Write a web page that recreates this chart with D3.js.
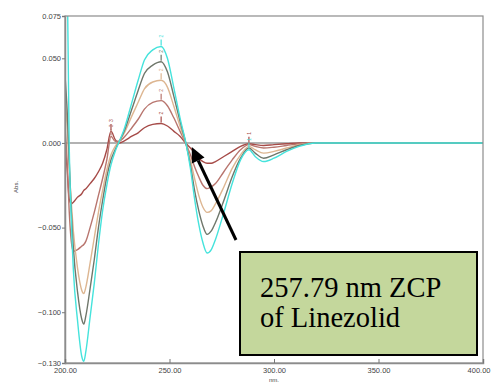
<!DOCTYPE html>
<html>
<head>
<meta charset="utf-8">
<script src="https://cdn.jsdelivr.net/npm/d3@7"></script>
<style>
  body { margin: 0; background: #fff; }
  svg { display: block; font-family: "Liberation Sans", Arial, sans-serif; }
</style>
</head>
<body>
<div id="chart"></div>
<script>
// wavelengths (nm) shared by all spectra
var wavelengths = [200, 201, 202, 203, 204, 206, 208, 209, 210, 212, 214, 216, 218, 220, 222, 224, 226, 228,
  232, 235, 238, 242, 246, 249, 252, 255, 258, 260, 262, 264, 266, 268, 270, 272, 276, 280, 284, 288,
  291, 295, 300, 306, 312, 320, 340, 370, 400];

// derivative absorbance, one array per concentration
var specRed = [0.0, -0.015, -0.033, -0.036, -0.035, -0.032, -0.030, -0.028, -0.027, -0.024, -0.021, -0.017, -0.012, -0.004, 0.007, 0.002, 0.0, 0.001,
  0.004, 0.006, 0.009, 0.011, 0.0115, 0.010, 0.007, 0.004, -0.0005, -0.003, -0.006, -0.009, -0.011, -0.012, -0.012, -0.011, -0.008, -0.005, -0.002, -0.0005,
  -0.001, -0.0015, -0.001, -0.0005, 0, 0, 0, 0, 0];
var specRose = [0.01, -0.01, -0.04, -0.058, -0.064, -0.063, -0.061, -0.060, -0.058, -0.050, -0.041, -0.031, -0.021, -0.010, 0.004, 0.001, 0.001, 0.003,
  0.009, 0.014, 0.020, 0.024, 0.025, 0.022, 0.015, 0.007, -0.001, -0.007, -0.014, -0.020, -0.025, -0.027, -0.026, -0.024, -0.017, -0.010, -0.004, -0.001,
  -0.002, -0.003, -0.0025, -0.0015, -0.0005, 0, 0, 0, 0];
var specTan = [0.03, 0.01, -0.015, -0.035, -0.052, -0.074, -0.087, -0.089, -0.085, -0.071, -0.056, -0.041, -0.028, -0.016, -0.007, -0.002, 0.001, 0.005,
  0.016, 0.024, 0.032, 0.036, 0.037, 0.033, 0.022, 0.010, -0.001, -0.010, -0.021, -0.031, -0.038, -0.041, -0.040, -0.036, -0.026, -0.015, -0.007, -0.002,
  -0.004, -0.006, -0.005, -0.003, -0.001, 0, 0, 0, 0];
var specGrey = [0.04, 0.02, -0.01, -0.04, -0.062, -0.088, -0.104, -0.107, -0.102, -0.086, -0.069, -0.050, -0.034, -0.020, -0.010, -0.004, 0.001, 0.006,
  0.020, 0.031, 0.041, 0.046, 0.048, 0.042, 0.028, 0.013, -0.001, -0.013, -0.028, -0.040, -0.049, -0.054, -0.052, -0.047, -0.034, -0.020, -0.009, -0.003,
  -0.006, -0.009, -0.007, -0.004, -0.0015, 0, 0, 0, 0];
var specCyan = [0.20, 0.11, 0.0, -0.045, -0.075, -0.105, -0.126, -0.129, -0.123, -0.103, -0.083, -0.060, -0.040, -0.025, -0.013, -0.005, 0.001, 0.007,
  0.024, 0.037, 0.049, 0.055, 0.057, 0.050, 0.033, 0.015, -0.001, -0.015, -0.033, -0.048, -0.059, -0.065, -0.063, -0.057, -0.041, -0.024, -0.010, -0.004,
  -0.008, -0.011, -0.009, -0.005, -0.002, 0, 0, 0, 0];

var seriesList = [specRed, specRose, specTan, specGrey, specCyan];
var seriesColors = ["#a64b48", "#b8756e", "#ddb691", "#6f776b", "#45e3dc"];

// peak pick marks: [series index, wavelength, label]
var peakMarks = [[0, 246, "2"], [1, 246, "2"], [2, 246, "2"], [3, 246, "2"], [4, 246, "2"],
  [0, 222, "3"], [1, 222, "3"], [0, 288, "1"], [4, 288, "1"]];

var xTicks = [200, 250, 300, 350, 400];
var yTicks = [0.075, 0.050, 0.000, -0.050, -0.100, -0.130];

var annotationLines = ["257.79 nm ZCP", "of Linezolid"];
var zcp = 257.79;

var margin = { top: 16, right: 8, bottom: 22, left: 65 },
    width = 491 - margin.left - margin.right,
    height = 385 - margin.top - margin.bottom;

var svg = d3.select("#chart")
  .append("svg")
    .attr("width", 491)
    .attr("height", 385)
  .append("g")
    .attr("transform", "translate(" + margin.left + "," + margin.top + ")");

var x = d3.scaleLinear().domain([200, 400]).range([0, width]);
var y = d3.scaleLinear().domain([-0.130, 0.075]).range([height, 0]);

svg.append("clipPath").attr("id", "plot-clip")
  .append("rect").attr("width", width).attr("height", height);

// zero line
svg.append("line")
  .attr("x1", 0).attr("x2", width)
  .attr("y1", y(0)).attr("y2", y(0))
  .style("stroke", "#999").style("stroke-width", 1.5);

// spectra
var line = d3.line()
  .x((d, i) => x(wavelengths[i]))
  .y(d => y(d))
  .curve(d3.curveMonotoneX);

svg.append("g").attr("clip-path", "url(#plot-clip)")
  .selectAll("path")
  .data(seriesList)
  .enter()
  .append("path")
    .attr("d", line)
    .style("fill", "none")
    .style("stroke", (d, i) => seriesColors[i])
    .style("stroke-width", 1.4);

// peak marks
var marks = svg.append("g");
peakMarks.forEach(function (m) {
  var idx = wavelengths.indexOf(m[1]);
  var px = x(m[1]), py = y(seriesList[m[0]][idx]);
  marks.append("line")
    .attr("x1", px).attr("x2", px)
    .attr("y1", py - 1).attr("y2", py - 7)
    .style("stroke", seriesColors[m[0]]).style("stroke-width", 1.2);
  marks.append("text")
    .attr("transform", "translate(" + (px + 2) + "," + (py - 9) + ") rotate(-90)")
    .style("font-size", "5px")
    .style("fill", seriesColors[m[0]])
    .text(m[2]);
});

// frame
svg.append("rect")
  .attr("width", width).attr("height", height)
  .style("fill", "none").style("stroke", "#8c8c8c").style("stroke-width", 1.2);

// y axis
var yAxis = svg.append("g")
  .call(d3.axisLeft(y).tickValues(yTicks).tickFormat(d3.format(".3f")).tickSize(3));
yAxis.select(".domain").style("stroke", "#8c8c8c").style("stroke-width", 1.5);
yAxis.selectAll(".tick line").style("stroke", "#777");
yAxis.selectAll(".tick text").style("font-size", "7.5px").style("fill", "#444").attr("x", -4);

// x axis, ticks point up into the plot
var xAxis = svg.append("g")
  .attr("transform", "translate(0," + height + ")")
  .call(d3.axisBottom(x).tickValues(xTicks).tickFormat(d3.format(".2f")).tickSize(-4).tickPadding(5));
xAxis.select(".domain").style("stroke", "#8c8c8c").style("stroke-width", 1.5);
xAxis.selectAll(".tick line").style("stroke", "#777");
xAxis.selectAll(".tick text")
  .style("font-size", "7.5px").style("fill", "#444").attr("y", 5)
  .attr("text-anchor", d => d === 400 ? "end" : "middle")
  .attr("x", d => d === 400 ? 7 : 0);

svg.append("text")
  .attr("x", x(300)).attr("y", height + 19)
  .attr("text-anchor", "middle")
  .style("font-size", "6px").style("fill", "#444")
  .text("nm.");

svg.append("text")
  .attr("transform", "translate(" + (-47) + "," + y(-0.026) + ") rotate(-90)")
  .attr("text-anchor", "middle")
  .style("font-size", "6px").style("fill", "#444")
  .text("Abs.");

// annotation box and arrow
var box = { x: 175, y: 236, w: 237, h: 103 };
var tipX = x(zcp) + 6, tipY = y(0) + 4;
var tailX = 171, tailY = 224;
var ang = Math.atan2(tipY - tailY, tipX - tailX);
var headLen = 15, headW = 7;
var baseX = tipX - headLen * Math.cos(ang), baseY = tipY - headLen * Math.sin(ang);

svg.append("line")
  .attr("x1", tailX).attr("y1", tailY)
  .attr("x2", baseX).attr("y2", baseY)
  .style("stroke", "#000").style("stroke-width", 3);
svg.append("polygon")
  .attr("points", [
    [tipX, tipY],
    [baseX + headW * Math.sin(ang), baseY - headW * Math.cos(ang)],
    [baseX - headW * Math.sin(ang), baseY + headW * Math.cos(ang)]
  ].map(p => p.join(",")).join(" "))
  .style("fill", "#000");

svg.append("rect")
  .attr("x", box.x).attr("y", box.y)
  .attr("width", box.w).attr("height", box.h)
  .style("fill", "#c4d79c").style("stroke", "#000").style("stroke-width", 2);

svg.selectAll(".note")
  .data(annotationLines)
  .enter()
  .append("text")
    .attr("class", "note")
    .attr("x", box.x + 20)
    .attr("y", (d, i) => box.y + 45 + i * 30)
    .style("font-family", "'Liberation Serif', 'Times New Roman', serif")
    .style("font-size", "28.5px")
    .style("fill", "#000")
    .text(d => d);
</script>
</body>
</html>
